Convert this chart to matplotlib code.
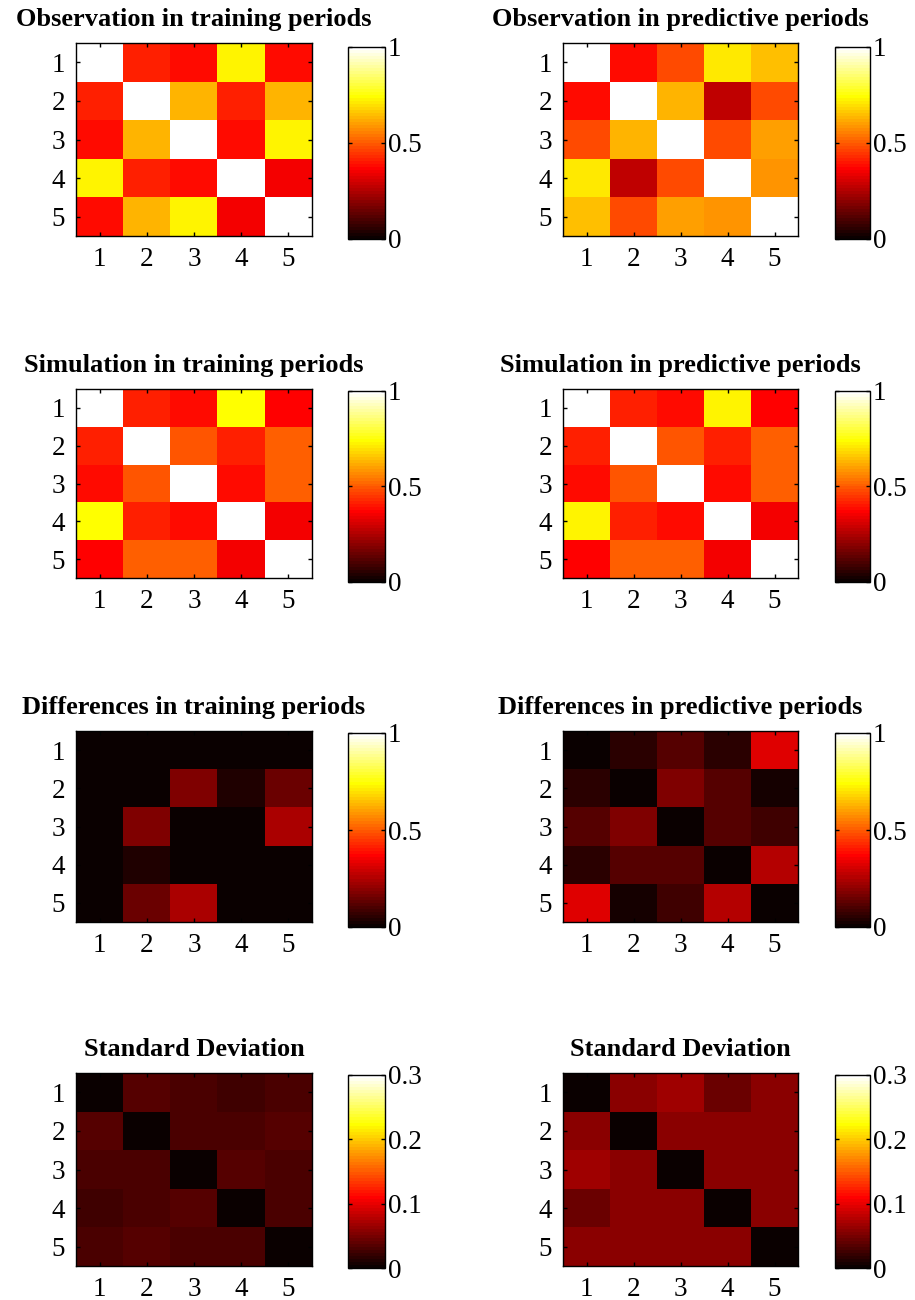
import numpy as np
import matplotlib
matplotlib.use("Agg")
import matplotlib.pyplot as plt
from matplotlib.colors import ListedColormap

plt.rcParams['font.family'] = ['Liberation Serif', 'DejaVu Serif']

labels = [1, 2, 3, 4, 5]

obs_train = [
    [1.00, 0.42, 0.38, 0.73, 0.39],
    [0.42, 1.00, 0.63, 0.42, 0.63],
    [0.38, 0.63, 1.00, 0.39, 0.73],
    [0.73, 0.42, 0.39, 1.00, 0.35],
    [0.39, 0.63, 0.73, 0.35, 1.00],
]
obs_pred = [
    [1.00, 0.38, 0.48, 0.71, 0.65],
    [0.38, 1.00, 0.64, 0.28, 0.47],
    [0.48, 0.64, 1.00, 0.48, 0.60],
    [0.71, 0.28, 0.48, 1.00, 0.59],
    [0.65, 0.47, 0.60, 0.59, 1.00],
]
sim_train = [
    [1.00, 0.42, 0.39, 0.74, 0.37],
    [0.42, 1.00, 0.49, 0.41, 0.50],
    [0.39, 0.49, 1.00, 0.39, 0.50],
    [0.74, 0.41, 0.39, 1.00, 0.35],
    [0.37, 0.50, 0.50, 0.35, 1.00],
]
sim_pred = [
    [1.00, 0.42, 0.38, 0.73, 0.37],
    [0.42, 1.00, 0.49, 0.41, 0.50],
    [0.38, 0.49, 1.00, 0.39, 0.50],
    [0.73, 0.41, 0.39, 1.00, 0.35],
    [0.37, 0.50, 0.50, 0.35, 1.00],
]
diff_train = [
    [0.010, 0.010, 0.010, 0.010, 0.010],
    [0.010, 0.010, 0.176, 0.035, 0.150],
    [0.010, 0.176, 0.010, 0.010, 0.240],
    [0.010, 0.035, 0.010, 0.010, 0.010],
    [0.010, 0.150, 0.240, 0.010, 0.010],
]
diff_pred = [
    [0.010, 0.050, 0.110, 0.060, 0.320],
    [0.050, 0.010, 0.180, 0.120, 0.030],
    [0.110, 0.180, 0.010, 0.120, 0.090],
    [0.060, 0.120, 0.120, 0.010, 0.250],
    [0.320, 0.030, 0.090, 0.250, 0.010],
]
std_train = [
    [0.003, 0.037, 0.032, 0.025, 0.029],
    [0.037, 0.003, 0.032, 0.032, 0.037],
    [0.032, 0.032, 0.003, 0.037, 0.031],
    [0.025, 0.032, 0.037, 0.003, 0.032],
    [0.029, 0.037, 0.031, 0.032, 0.003],
]
std_pred = [
    [0.003, 0.060, 0.066, 0.045, 0.060],
    [0.060, 0.003, 0.060, 0.060, 0.060],
    [0.066, 0.060, 0.003, 0.060, 0.060],
    [0.045, 0.060, 0.060, 0.003, 0.060],
    [0.060, 0.060, 0.060, 0.060, 0.003],
]

titles = [
    "Observation in training periods", "Observation in predictive periods",
    "Simulation in training periods", "Simulation in predictive periods",
    "Differences in training periods", "Differences in predictive periods",
    "Standard Deviation", "Standard Deviation",
]
matrices = [obs_train, obs_pred, sim_train, sim_pred,
            diff_train, diff_pred, std_train, std_pred]
vmaxes = [1, 1, 1, 1, 1, 1, 0.3, 0.3]
cb_ticks_1 = [0, 0.5, 1]
cb_labels_1 = ["0", "0.5", "1"]
cb_ticks_3 = [0, 0.1, 0.2, 0.3]
cb_labels_3 = ["0", "0.1", "0.2", "0.3"]

# MATLAB-style 'hot' colormap with 64 entries
n = 64
n1 = int(3 * n / 8)
r = np.concatenate([np.arange(1, n1 + 1) / n1, np.ones(n - n1)])
g = np.concatenate([np.zeros(n1), np.arange(1, n1 + 1) / n1, np.ones(n - 2 * n1)])
b = np.concatenate([np.zeros(2 * n1), np.arange(1, n - 2 * n1 + 1) / (n - 2 * n1)])
hot = ListedColormap(np.column_stack([r, g, b]))

W, H = 915, 1300
fig = plt.figure(figsize=(W / 100, H / 100), dpi=100)

ax_x = [(76, 312), (563, 798)]
cb_x = [(348, 385), (835, 870)]
ax_y = [(43, 236), (389, 578), (731, 922), (1073, 1266)]
cb_y = [(47, 239), (391, 582), (733, 927), (1075, 1268)]

FS = 19.5
TFS = 19
for i, (mat, title, vmax) in enumerate(zip(matrices, titles, vmaxes)):
    row, col = divmod(i, 2)
    x0, x1 = ax_x[col]
    y0, y1 = ax_y[row]
    ax = fig.add_axes([x0 / W, 1 - y1 / H, (x1 - x0) / W, (y1 - y0) / H])
    im = ax.imshow(np.array(mat), cmap=hot, vmin=0, vmax=vmax,
                   interpolation='nearest', aspect='auto',
                   extent=[0.5, 5.5, 5.5, 0.5])
    ax.set_xticks(range(1, 6))
    ax.set_yticks(range(1, 6))
    ax.set_xticklabels([str(v) for v in labels])
    ax.set_yticklabels([str(v) for v in labels])
    ax.tick_params(direction='in', length=3, width=1, top=True, right=True,
                   labelsize=FS, pad=8, colors='black')
    for s in ax.spines.values():
        s.set_linewidth(1)
    ax.set_title(title, fontsize=TFS, fontweight='bold', pad=12)

    cx0, cx1 = cb_x[col]
    cy0, cy1 = cb_y[row]
    cax = fig.add_axes([cx0 / W, 1 - cy1 / H, (cx1 - cx0) / W, (cy1 - cy0) / H])
    cb = fig.colorbar(im, cax=cax)
    if vmax == 1:
        cb.set_ticks(cb_ticks_1)
        cb.set_ticklabels(cb_labels_1)
    else:
        cb.set_ticks(cb_ticks_3)
        cb.set_ticklabels(cb_labels_3)
    cax.tick_params(direction='in', length=3, width=1, left=True, right=True,
                    labelsize=FS, pad=2)
    cb.outline.set_linewidth(1)

fig.savefig("out.png", dpi=100)
